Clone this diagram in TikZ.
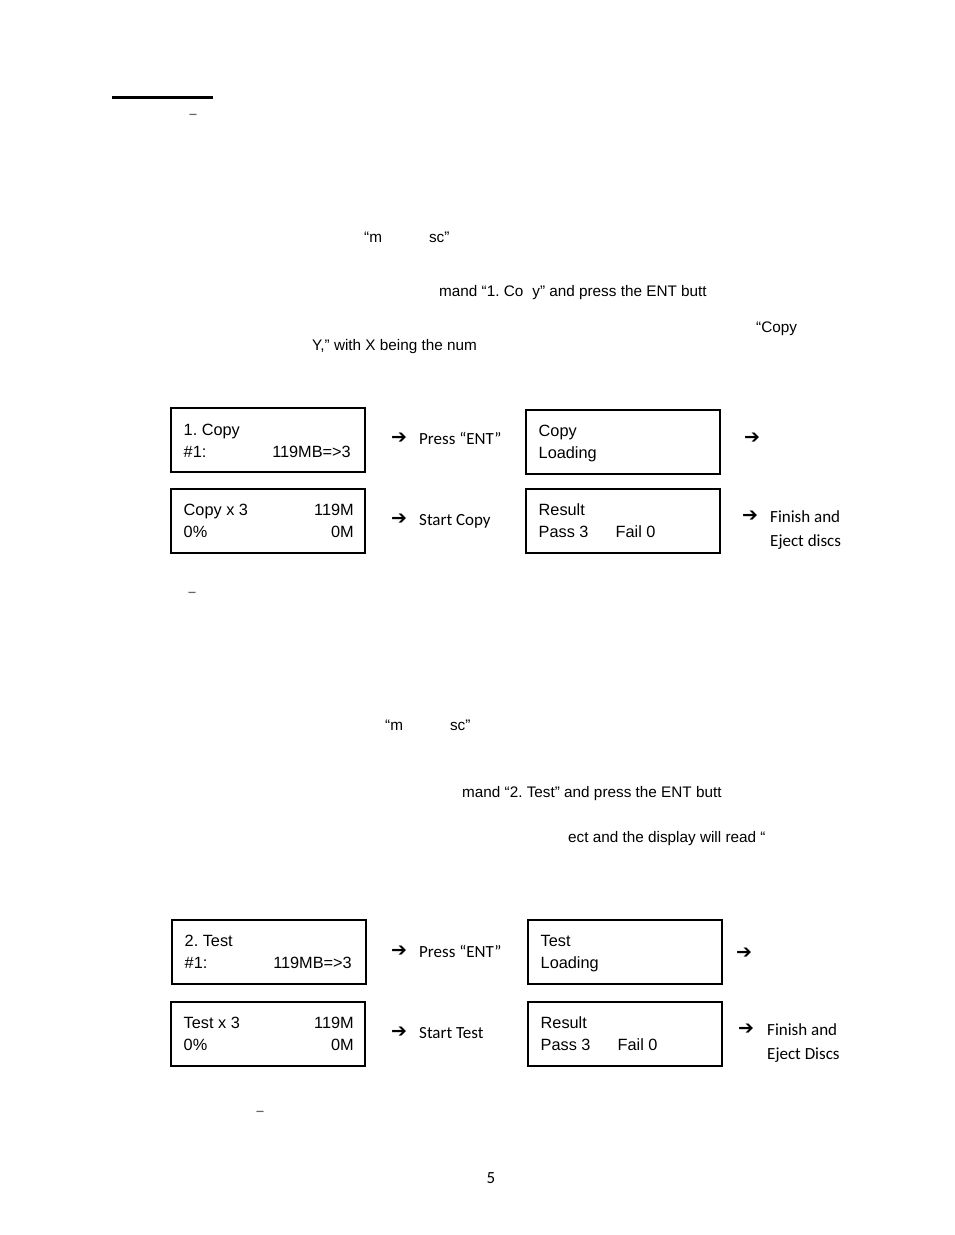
\documentclass[tikz,border=0pt]{standalone}
\usepackage{fontspec}
\setmainfont{Liberation Sans}
\newfontfamily\calib{Carlito}
\newfontfamily\dejavu{DejaVu Sans}
\usetikzlibrary{positioning, calc}
\frenchspacing

\newcommand{\arw}{{\dejavu\bfseries\fontsize{19}{19}\selectfont ➔}}

\begin{document}
\begin{tikzpicture}[
    x=1pt, y=-1pt,
    % Styles
    lcd/.style={
        rectangle,
        draw,
        line width=2pt,
        minimum width=194.5pt,
        minimum height=64.5pt,
        anchor=north west,
        inner sep=0pt
    },
    lcdtext/.style={
        inner sep=0pt,
        font=\fontsize{16.3}{16.3}\selectfont
    },
    body/.style={ % Running text fragments
        inner sep=0pt,
        anchor=base west,
        font=\fontsize{15.3}{15.3}\selectfont
    },
    step label/.style={
        inner sep=0pt,
        anchor=base west,
        font=\calib\fontsize{17}{17}\selectfont
    },
    arrowmark/.style={
        inner sep=0pt,
        anchor=west
    },
    dashmark/.style={
        inner sep=0pt,
        text=black!60,
        font=\calib\fontsize{20}{20}\selectfont
    }
]
    \useasboundingbox (0,0) rectangle (954,1235);

    % Heading rule and dashes
    \draw[line width=3pt] (112,97) coordinate (ruleL) -- (213,97) coordinate (ruleR);
    \node[dashmark] (dashA) at (193,117) {–};
    \node[dashmark] (dashB) at (192,595) {–};
    \node[dashmark] (dashC) at (260,1114) {–};

    % Text fragments, copy part
    \node[body] (msc1) at (364,242) {“m\hspace{47pt}sc”};
    \node[body] (cmd1) at (439,296) {mand “1. Co\hspace{9pt}y” and press the ENT butt};
    \node[body] (copyq) at (756,332) {“Copy};
    \node[body] (ynum) at (312,350) {Y,” with X being the num};

    % Copy displays
    \node[lcd] (copyA) at (169.5,406.5) {};
    \node[lcd] (copyB) at (524.5,408.5) {};
    \node[lcd] (copyC) at (169.5,487.5) {};
    \node[lcd] (copyD) at (524.5,487.5) {};

    \node[lcdtext, anchor=base west] (cA1) at ($(copyA.north west)+(14,29)$) {1. Copy};
    \node[lcdtext, anchor=base west] (cA2) at ($(copyA.north west)+(14,51)$) {\#1:};
    \node[lcdtext, anchor=base east] (cA3) at ($(copyA.north east)+(-15,51)$) {119MB=>3};

    \node[lcdtext, anchor=base west] (cB1) at ($(copyB.north west)+(14,28)$) {Copy};
    \node[lcdtext, anchor=base west] (cB2) at ($(copyB.north west)+(14,50)$) {Loading};

    \node[lcdtext, anchor=base west] (cC1) at ($(copyC.north west)+(14,28)$) {Copy x 3};
    \node[lcdtext, anchor=base east] (cC2) at ($(copyC.north east)+(-12,28)$) {119M};
    \node[lcdtext, anchor=base west] (cC3) at ($(copyC.north west)+(14,50)$) {0\%};
    \node[lcdtext, anchor=base east] (cC4) at ($(copyC.north east)+(-12,50)$) {0M};

    \node[lcdtext, anchor=base west] (cD1) at ($(copyD.north west)+(14,28)$) {Result};
    \node[lcdtext, anchor=base west] (cD2) at ($(copyD.north west)+(14,50)$) {Pass 3};
    \node[lcdtext, anchor=base west] (cD3) at ($(copyD.north west)+(91,50)$) {Fail 0};

    % Step marks, copy part
    \node[arrowmark] (arA) at (391,438) {\arw};
    \node[step label] (pressA) at (419,444) {Press “ENT”};
    \node[arrowmark] (arB) at (744,438) {\arw};
    \node[arrowmark] (arC) at (391,519) {\arw};
    \node[step label] (startA) at (419,525) {Start Copy};
    \node[arrowmark] (arD) at (742,516) {\arw};
    \node[step label] (finA) at (770,522) {Finish and};
    \node[step label] (ejA) at (770,546) {Eject discs};

    % Text fragments, test part
    \node[body] (msc2) at (385,730) {“m\hspace{47pt}sc”};
    \node[body] (cmd2) at (462,797) {mand “2. Test” and press the ENT butt};
    \node[body] (disp) at (568,842) {ect and the display will read “};

    % Test displays
    \node[lcd] (testA) at (170.5,918.5) {};
    \node[lcd] (testB) at (526.5,918.5) {};
    \node[lcd] (testC) at (169.5,1000.5) {};
    \node[lcd] (testD) at (526.5,1000.5) {};

    \node[lcdtext, anchor=base west] (tA1) at ($(testA.north west)+(14,28)$) {2. Test};
    \node[lcdtext, anchor=base west] (tA2) at ($(testA.north west)+(14,50)$) {\#1:};
    \node[lcdtext, anchor=base east] (tA3) at ($(testA.north east)+(-15,50)$) {119MB=>3};

    \node[lcdtext, anchor=base west] (tB1) at ($(testB.north west)+(14,28)$) {Test};
    \node[lcdtext, anchor=base west] (tB2) at ($(testB.north west)+(14,50)$) {Loading};

    \node[lcdtext, anchor=base west] (tC1) at ($(testC.north west)+(14,28)$) {Test x 3};
    \node[lcdtext, anchor=base east] (tC2) at ($(testC.north east)+(-12,28)$) {119M};
    \node[lcdtext, anchor=base west] (tC3) at ($(testC.north west)+(14,50)$) {0\%};
    \node[lcdtext, anchor=base east] (tC4) at ($(testC.north east)+(-12,50)$) {0M};

    \node[lcdtext, anchor=base west] (tD1) at ($(testD.north west)+(14,28)$) {Result};
    \node[lcdtext, anchor=base west] (tD2) at ($(testD.north west)+(14,50)$) {Pass 3};
    \node[lcdtext, anchor=base west] (tD3) at ($(testD.north west)+(91,50)$) {Fail 0};

    % Step marks, test part
    \node[arrowmark] (arE) at (391,951) {\arw};
    \node[step label] (pressB) at (419,957) {Press “ENT”};
    \node[arrowmark] (arF) at (736,953) {\arw};
    \node[arrowmark] (arG) at (391,1032) {\arw};
    \node[step label] (startB) at (419,1038) {Start Test};
    \node[arrowmark] (arH) at (738,1029) {\arw};
    \node[step label] (finB) at (767,1035) {Finish and};
    \node[step label] (ejB) at (767,1059) {Eject Discs};

    % Page number
    \node[step label, anchor=base] (page) at (491,1183) {5};
\end{tikzpicture}
\end{document}
